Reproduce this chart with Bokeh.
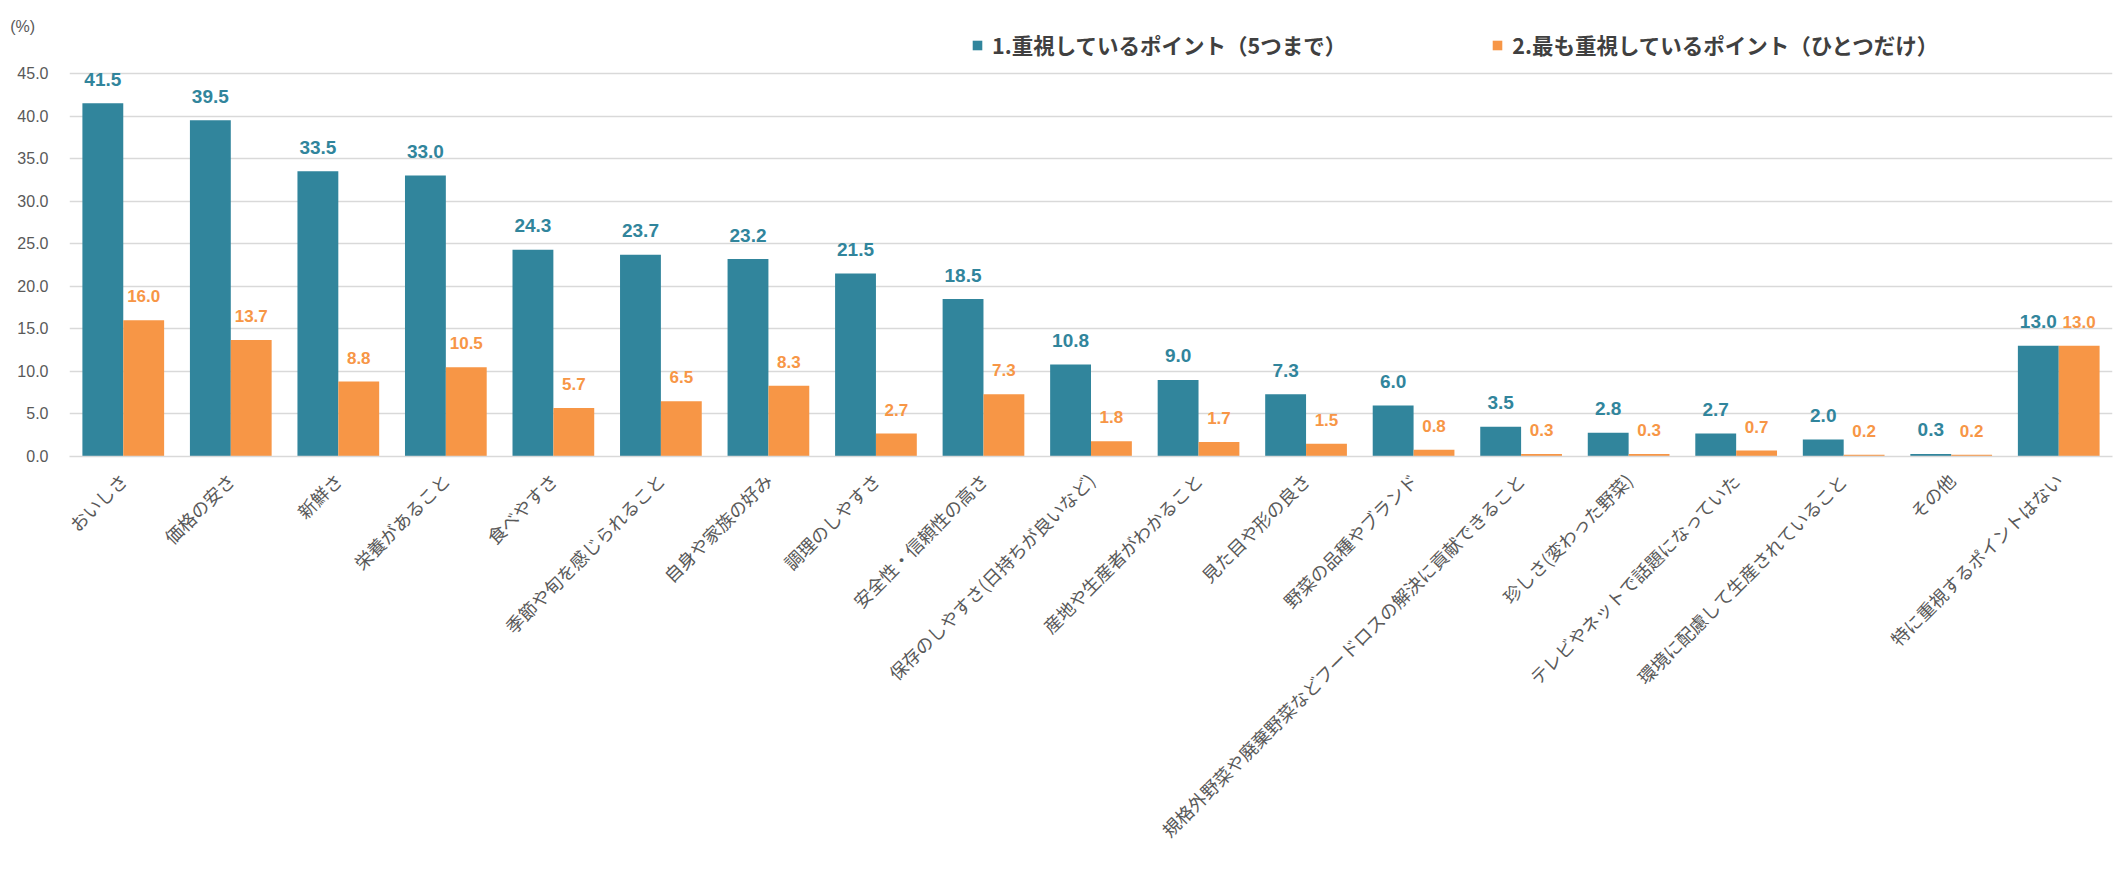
import math
from bokeh.plotting import figure
from bokeh.models import (ColumnDataSource, FactorRange, Range1d, FixedTicker,
                          PrintfTickFormatter, Legend, LegendItem)
from bokeh.transform import dodge
from bokeh.embed import file_html
from bokeh.resources import INLINE
from bokeh.core.properties import value

categories = [
    "おいしさ", "価格の安さ", "新鮮さ", "栄養があること", "食べやすさ",
    "季節や旬を感じられること", "自身や家族の好み", "調理のしやすさ",
    "安全性・信頼性の高さ", "保存のしやすさ(日持ちが良いなど)",
    "産地や生産者がわかること", "見た目や形の良さ", "野菜の品種やブランド",
    "規格外野菜や廃棄野菜などフードロスの解決に貢献できること",
    "珍しさ(変わった野菜)", "テレビやネットで話題になっていた",
    "環境に配慮して生産されていること", "その他", "特に重視するポイントはない",
]
series1 = [41.5, 39.5, 33.5, 33.0, 24.3, 23.7, 23.2, 21.5, 18.5, 10.8,
           9.0, 7.3, 6.0, 3.5, 2.8, 2.7, 2.0, 0.3, 13.0]
series2 = [16.0, 13.7, 8.8, 10.5, 5.7, 6.5, 8.3, 2.7, 7.3, 1.8,
           1.7, 1.5, 0.8, 0.3, 0.3, 0.7, 0.2, 0.2, 13.0]
series_names = ["1.重視しているポイント（5つまで）", "2.最も重視しているポイント（ひとつだけ）"]
y_ticks = [0, 5, 10, 15, 20, 25, 30, 35, 40, 45]
unit_label = "(%)"

BLUE = "#31859C"
ORANGE = "#F79646"
GRAY = "#595959"
JP = "Noto Sans CJK JP"

src = ColumnDataSource(dict(
    cat=categories, s1=series1, s2=series2,
    l1=[f"{v:.1f}" for v in series1], l2=[f"{v:.1f}" for v in series2],
))

p = figure(x_range=FactorRange(*categories), y_range=Range1d(0, 51.81),
           frame_width=2043, frame_height=441,
           min_border_left=69, min_border_right=2, min_border_top=15, min_border_bottom=395,
           output_backend="svg", toolbar_location=None)
p.outline_line_color = None
p.background_fill_color = "white"

w = 0.38
r1 = p.vbar(x=dodge("cat", -w / 2, range=p.x_range), top="s1", width=w, source=src,
            color=BLUE, line_color=None)
r2 = p.vbar(x=dodge("cat", w / 2, range=p.x_range), top="s2", width=w, source=src,
            color=ORANGE, line_color=None)

p.text(x=dodge("cat", -w / 2, range=p.x_range), y="s1", text="l1", source=src,
       text_align="center", text_baseline="middle", y_offset=-24,
       text_font=value("Liberation Sans"), text_font_style="bold",
       text_font_size="19px", text_color=BLUE)
p.text(x=dodge("cat", w / 2, range=p.x_range), y="s2", text="l2", source=src,
       text_align="center", text_baseline="middle", y_offset=-24,
       text_font=value("Liberation Sans"), text_font_style="bold",
       text_font_size="17px", text_color=ORANGE)

# y axis: the unit label "(%)" sits at the top of the axis as an extra tick label
unit_pos = 50.5
p.yaxis.ticker = FixedTicker(ticks=y_ticks + [unit_pos])
p.yaxis.formatter = PrintfTickFormatter(format="%.1f")
p.yaxis.major_label_overrides = {unit_pos: unit_label + "\u00a0\u00a0\u00a0"}
p.yaxis.axis_line_color = None
p.yaxis.major_tick_line_color = None
p.yaxis.minor_tick_line_color = None
p.yaxis.major_label_text_font = "Liberation Sans"
p.yaxis.major_label_text_font_size = "16px"
p.yaxis.major_label_text_color = GRAY
p.yaxis.major_label_standoff = 15
p.ygrid.ticker = FixedTicker(ticks=y_ticks)
p.ygrid.grid_line_color = "#D9D9D9"
p.ygrid.grid_line_width = 1.5
p.xgrid.grid_line_color = None

# x axis
p.xaxis.axis_line_color = "#D9D9D9"
p.xaxis.axis_line_width = 1.5
p.xaxis.major_tick_line_color = None
p.xaxis.minor_tick_line_color = None
p.xaxis.major_label_orientation = math.pi / 4
p.xaxis.major_label_text_font = JP
p.xaxis.major_label_text_font_size = "18px"
p.xaxis.major_label_text_color = GRAY
p.xaxis.major_label_standoff = 14

# legend
legend = Legend(items=[LegendItem(label=series_names[0], renderers=[r1]),
                       LegendItem(label=series_names[1], renderers=[r2])],
                orientation="horizontal", location=(902, 396),
                glyph_width=12, glyph_height=12, label_standoff=9, spacing=145,
                padding=0, margin=0, border_line_color=None, background_fill_alpha=0,
                label_text_font=JP, label_text_font_style="bold",
                label_text_font_size="21.5px", label_text_color="#404040")
p.add_layout(legend, "center")

open("out.html", "w").write(file_html(p, INLINE))
